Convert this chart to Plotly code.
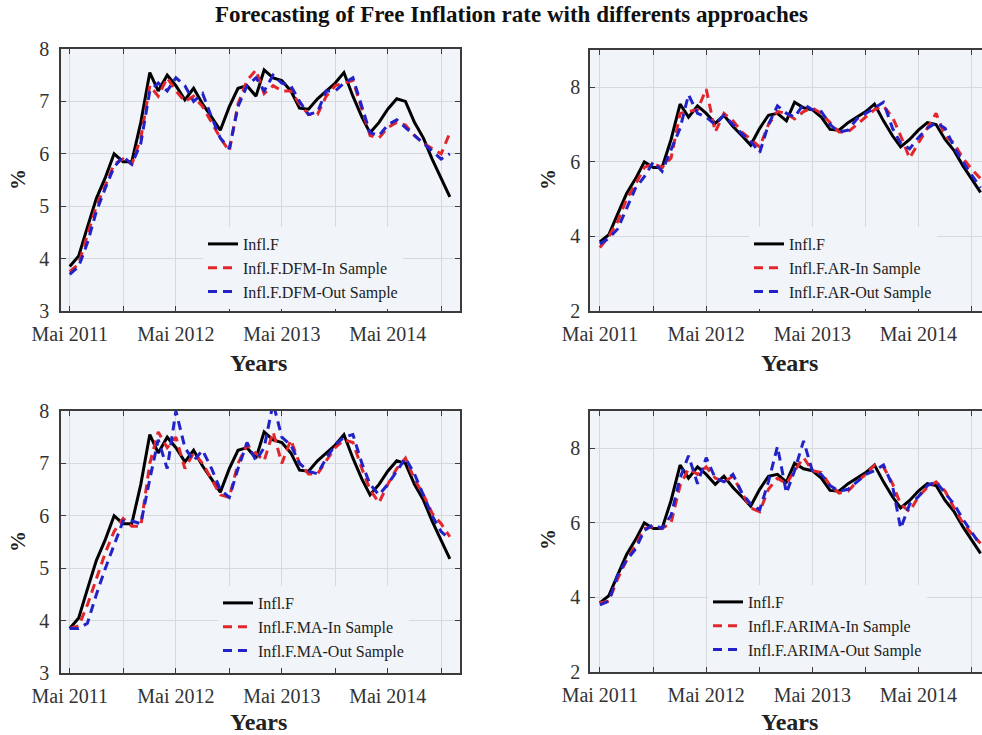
import plotly.graph_objects as go

# Monthly observations, May 2011 - Dec 2014
months = [f"{y}-{m:02d}-01" for y in range(2011, 2015) for m in range(1, 13)
          if (y, m) >= (2011, 5)]

infl_f = [3.85, 4.05, 4.6, 5.15, 5.55, 6.0, 5.85, 5.85, 6.6, 7.55, 7.2, 7.5,
          7.3, 7.03, 7.25, 6.95, 6.7, 6.45, 6.9, 7.25, 7.3, 7.1, 7.6, 7.45,
          7.4, 7.2, 6.87, 6.85, 7.05, 7.2, 7.35, 7.55, 7.1, 6.7, 6.4, 6.6,
          6.85, 7.05, 7.0, 6.6, 6.3, 5.9, 5.55, 5.18]

dfm_in = [3.75, 3.9, 4.45, 5.0, 5.4, 5.8, 5.9, 5.8, 6.3, 7.3, 7.1, 7.45,
          7.2, 7.0, 7.1, 6.9, 6.6, 6.3, 6.05, 6.95, 7.4, 7.6, 7.15, 7.3,
          7.2, 7.2, 6.95, 6.75, 6.75, 7.1, 7.3, 7.35, 7.4, 6.85, 6.35, 6.3,
          6.5, 6.6, 6.55, 6.35, 6.2, 6.1, 6.0, 6.4]
dfm_out = [3.7, 3.85, 4.3, 4.9, 5.35, 5.75, 5.95, 5.8, 6.2, 7.2, 7.35, 7.2,
           7.45, 7.3, 7.0, 7.15, 6.7, 6.3, 6.1, 6.9, 7.3, 7.45, 7.2, 7.5,
           7.35, 7.3, 7.0, 6.75, 6.8, 7.2, 7.2, 7.35, 7.45, 6.9, 6.4, 6.35,
           6.55, 6.65, 6.5, 6.35, 6.2, 6.05, 5.9, 6.0]

ar_in = [3.7, 4.0, 4.4, 5.0, 5.4, 5.85, 5.95, 5.85, 6.1, 7.3, 7.35, 7.4,
         7.95, 6.8, 7.3, 7.1, 6.8, 6.6, 6.4, 7.0, 7.35, 7.3, 7.15, 7.35,
         7.45, 7.3, 7.05, 6.8, 6.8, 7.0, 7.2, 7.4, 7.5, 7.2, 6.7, 6.1,
         6.5, 6.9, 7.3, 6.7, 6.5, 6.1, 5.8, 5.55]
ar_out = [3.8, 3.95, 4.2, 4.75, 5.3, 5.6, 6.0, 5.75, 6.3, 6.9, 7.8, 7.3,
          7.2, 7.0, 7.25, 7.0, 6.75, 6.55, 6.25, 7.0, 7.5, 7.3, 7.2, 7.55,
          7.4, 7.35, 7.0, 6.8, 6.85, 7.15, 7.3, 7.45, 7.6, 6.9, 6.5, 6.35,
          6.65, 6.9, 7.05, 6.9, 6.4, 6.0, 5.65, 5.3]

ma_in = [3.85, 3.9, 4.3, 4.8, 5.3, 5.7, 5.95, 5.8, 5.8, 7.0, 7.6, 7.3,
         7.5, 6.9, 7.2, 7.0, 6.7, 6.4, 6.35, 7.0, 7.35, 7.2, 7.05, 7.6,
         7.0, 7.45, 7.0, 6.8, 6.8, 7.05, 7.3, 7.45, 7.4, 6.9, 6.5, 6.25,
         6.6, 6.9, 7.1, 6.7, 6.4, 6.05, 5.85, 5.6]
ma_out = [3.85, 3.85, 3.95, 4.5, 5.0, 5.45, 5.9, 5.9, 5.85, 6.7, 7.45, 6.9,
          8.0, 7.3, 7.05, 7.25, 6.9, 6.5, 6.35, 6.9, 7.4, 7.05, 7.3, 8.15,
          7.5, 7.35, 7.0, 6.85, 6.8, 7.1, 7.35, 7.5, 7.55, 7.0, 6.6, 6.4,
          6.6, 6.85, 7.1, 6.8, 6.4, 6.0, 5.7, 5.55]

arima_in = [3.85, 3.9, 4.5, 5.0, 5.4, 5.85, 5.9, 5.85, 6.0, 7.0, 7.45, 7.3,
            7.5, 7.2, 7.1, 7.25, 6.8, 6.4, 6.3, 6.9, 7.2, 7.05, 7.4, 7.75,
            7.4, 7.35, 7.0, 6.8, 6.85, 7.1, 7.3, 7.55, 7.5, 7.05, 6.5, 6.3,
            6.7, 6.95, 7.1, 6.85, 6.4, 6.0, 5.7, 5.45]
arima_out = [3.8, 3.9, 4.6, 5.0, 5.3, 5.8, 5.95, 5.85, 6.2, 7.2, 7.8, 7.05,
             7.75, 7.2, 7.1, 7.3, 6.8, 6.5, 6.35, 7.1, 8.05, 6.8, 7.4, 8.2,
             7.4, 7.3, 7.0, 6.85, 6.9, 7.1, 7.3, 7.4, 7.55, 7.0, 5.85, 6.5,
             6.7, 7.0, 7.1, 6.8, 6.5, 6.1, 5.75, 5.4]

panels = [
    ("DFM", dfm_in, dfm_out),
    ("AR", ar_in, ar_out),
    ("MA", ma_in, ma_out),
    ("ARIMA", arima_in, arima_out),
]

tick_dates = [f"{y}-{m:02d}-01" for y in range(2011, 2015) for m in (5, 11)]
tick_text = [f"Mai {d[:4]}" if d[5:7] == "05" else "" for d in tick_dates]

W, H = 982, 735
SERIF = "Liberation Serif, Times New Roman, serif"
BG = "#f1f4f9"
GRID = "#d6dade"
AXIS = "#3c3c3c"
RED = "#e3262b"
BLUE = "#2222c8"


def px_x(p):
    return p / W


def px_y(p):
    return 1 - p / H


# panel boxes in pixels: (left, right, top, bottom)
boxes = [(61, 460, 49, 311), (590, 982, 50, 311),
         (61, 460, 411, 673), (590, 982, 411, 672)]
xranges = [["2011-04-01", "2015-01-05"], ["2011-03-28", "2014-12-06"],
           ["2011-04-01", "2015-01-05"], ["2011-03-28", "2014-12-06"]]
yranges = [[3, 8], [2, 9], [3, 8], [2, 9]]
yticks = [[3, 4, 5, 6, 7, 8], [2, 4, 6, 8], [3, 4, 5, 6, 7, 8], [2, 4, 6, 8]]
legend_pos = [(203, 227), (749, 227), (218, 586), (708, 585)]
pct_pos = [(18, 180), (548, 180), (18, 542), (548, 540)]
years_pos = [(258, 363), (789, 363), (258, 722), (789, 722)]

fig = go.Figure()
layout = dict(
    template="none",
    width=W, height=H, margin=dict(l=0, r=0, t=0, b=0, autoexpand=False),
    paper_bgcolor="white", plot_bgcolor=BG, showlegend=True,
    font=dict(family=SERIF, color="#222"),
    annotations=[],
)

for i, (name, s_in, s_out) in enumerate(panels):
    k = "" if i == 0 else str(i + 1)
    xa, ya, lg = "x" + k, "y" + k, "legend" + k
    fig.add_trace(go.Scatter(x=months, y=infl_f, name="Infl.F", mode="lines",
                             line=dict(color="black", width=3),
                             xaxis=xa, yaxis=ya, legend=lg))
    fig.add_trace(go.Scatter(x=months, y=s_in, name=f"Infl.F.{name}-In Sample",
                             mode="lines",
                             line=dict(color=RED, width=3, dash="9px,6px"),
                             xaxis=xa, yaxis=ya, legend=lg))
    fig.add_trace(go.Scatter(x=months, y=s_out, name=f"Infl.F.{name}-Out Sample",
                             mode="lines",
                             line=dict(color=BLUE, width=3, dash="9px,6px"),
                             xaxis=xa, yaxis=ya, legend=lg))

    l, r, t, b = boxes[i]
    right_panel = i in (1, 3)
    layout["xaxis" + k] = dict(
        domain=[px_x(l), px_x(r)], anchor=ya, type="date", range=xranges[i],
        tickvals=tick_dates, ticktext=tick_text, ticks="inside", ticklen=5,
        tickcolor=AXIS, showline=True, linecolor=AXIS, linewidth=1.5,
        mirror="ticks", showgrid=True, gridcolor=GRID, gridwidth=1,
        tickfont=dict(family=SERIF, size=20, color="#333"),
        ticklabelstandoff=4, zeroline=False, automargin=False,
    )
    layout["yaxis" + k] = dict(
        domain=[px_y(b), px_y(t)], anchor=xa, range=yranges[i],
        tickvals=yticks[i], ticks="inside", ticklen=5, tickcolor=AXIS,
        showline=True, linecolor=AXIS, linewidth=1.5,
        mirror=False if right_panel else "ticks",
        showgrid=True, gridcolor=GRID, gridwidth=1,
        tickfont=dict(family=SERIF, size=20, color="#333"),
        ticklabelstandoff=4 if right_panel else 6, zeroline=False,
        automargin=False,
    )
    lx, ly = legend_pos[i]
    layout[lg] = dict(
        x=px_x(lx), y=px_y(ly), xanchor="left", yanchor="top",
        bgcolor=BG, borderwidth=0, tracegroupgap=0,
        font=dict(family=SERIF, size=16, color="#222"),
    )
    layout["annotations"].append(dict(
        x=px_x(pct_pos[i][0]), y=px_y(pct_pos[i][1]), xref="paper",
        yref="paper", xanchor="center", yanchor="middle",
        text="<b>%</b>", textangle=-90, showarrow=False,
        font=dict(family=SERIF, size=21, color="#222")))
    layout["annotations"].append(dict(
        x=px_x(years_pos[i][0]), y=px_y(years_pos[i][1]), xref="paper",
        yref="paper", xanchor="center", yanchor="middle",
        text="<b>Years</b>", showarrow=False,
        font=dict(family=SERIF, size=24, color="#222")))

layout["annotations"].append(dict(
    x=px_x(511), y=px_y(14), xref="paper", yref="paper",
    xanchor="center", yanchor="middle", showarrow=False,
    text="<b>Forecasting of Free Inflation rate with differents approaches</b>",
    font=dict(family=SERIF, size=23, color="#111")))

fig.update_layout(**layout)
fig.write_html("out.html")
